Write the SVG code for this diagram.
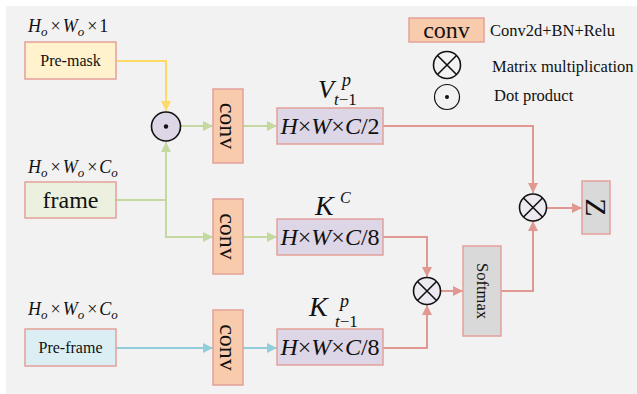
<svg xmlns="http://www.w3.org/2000/svg" width="637" height="394" viewBox="0 0 637 394">
  <style>
    text { font-family: "Liberation Serif", "Times New Roman", serif; fill: #111; }
    .box { stroke: #e3a09b; stroke-width: 1.5; }
    .conv { fill: #f8cbad; }
    .feat { fill: #dcd6e6; }
    .gray { fill: #d9d9d9; }
    .op { stroke: #111; stroke-width: 1.6; }
    .math { font-style: italic; }
    .red { stroke: #e09890; stroke-width: 2; fill: none; }
    .green { stroke: #c3d99f; stroke-width: 2; fill: none; }
    .yellow { stroke: #ffd966; stroke-width: 2; fill: none; }
    .blue { stroke: #92cddc; stroke-width: 2; fill: none; }
  </style>
  <defs>
    <marker id="ar-red" viewBox="0 0 10 10" refX="10" refY="5" markerWidth="5" markerHeight="5" markerUnits="strokeWidth" orient="auto">
      <path d="M0,0 L10,5 L0,10 Z" fill="#e09890"/>
    </marker>
    <marker id="ar-green" viewBox="0 0 10 10" refX="10" refY="5" markerWidth="5" markerHeight="5" markerUnits="strokeWidth" orient="auto">
      <path d="M0,0 L10,5 L0,10 Z" fill="#c3d99f"/>
    </marker>
    <marker id="ar-yellow" viewBox="0 0 10 10" refX="10" refY="5" markerWidth="5" markerHeight="5" markerUnits="strokeWidth" orient="auto">
      <path d="M0,0 L10,5 L0,10 Z" fill="#ffd966"/>
    </marker>
    <marker id="ar-blue" viewBox="0 0 10 10" refX="10" refY="5" markerWidth="5" markerHeight="5" markerUnits="strokeWidth" orient="auto">
      <path d="M0,0 L10,5 L0,10 Z" fill="#92cddc"/>
    </marker>
  </defs>

  <rect width="637" height="394" fill="#ffffff"/>
  <rect x="6" y="6" width="631" height="388" fill="#f2f2f2"/>

  <!-- connectors -->
  <g id="connectors">
    <path class="yellow" d="M116,61 H166 V111" marker-end="url(#ar-yellow)"/>
    <path class="green" d="M116,200 H166 V142" marker-end="url(#ar-green)"/>
    <path class="green" d="M166,200 V237 H213" marker-end="url(#ar-green)"/>
    <path class="green" d="M181,126 H213" marker-end="url(#ar-green)"/>
    <path class="green" d="M243,126 H277" marker-end="url(#ar-green)"/>
    <path class="green" d="M243,237 H277" marker-end="url(#ar-green)"/>
    <path class="blue" d="M116,348 H213" marker-end="url(#ar-blue)"/>
    <path class="blue" d="M243,348 H277" marker-end="url(#ar-blue)"/>
    <path class="red" d="M383,126 H533 V193" marker-end="url(#ar-red)"/>
    <path class="red" d="M383,237 H427 V277" marker-end="url(#ar-red)"/>
    <path class="red" d="M383,348 H427 V305" marker-end="url(#ar-red)"/>
    <path class="red" d="M441,291 H463" marker-end="url(#ar-red)"/>
    <path class="red" d="M501,291 H533 V221" marker-end="url(#ar-red)"/>
    <path class="red" d="M546,208 H582" marker-end="url(#ar-red)"/>
  </g>

  <!-- inputs -->
  <g id="pre-mask">
    <text x="28" y="32" font-size="18"><tspan class="math">H</tspan><tspan class="math" font-size="13" dy="4">o</tspan><tspan dx="3" dy="-4">×</tspan><tspan class="math" dx="2">W</tspan><tspan class="math" font-size="13" dy="4">o</tspan><tspan dx="3" dy="-4">×</tspan><tspan dx="2">1</tspan></text>
    <rect class="box" x="25" y="42" width="91" height="37" fill="#fff2cc"/>
    <text x="70.5" y="66" font-size="16" text-anchor="middle">Pre-mask</text>
  </g>
  <g id="frame">
    <text x="28" y="173" font-size="18"><tspan class="math">H</tspan><tspan class="math" font-size="13" dy="4">o</tspan><tspan dx="3" dy="-4">×</tspan><tspan class="math" dx="2">W</tspan><tspan class="math" font-size="13" dy="4">o</tspan><tspan dx="3" dy="-4">×</tspan><tspan class="math" dx="2">C</tspan><tspan class="math" font-size="13" dy="4">o</tspan></text>
    <rect class="box" x="25" y="182" width="91" height="36" fill="#ebf1de"/>
    <text x="70.5" y="208" font-size="24" text-anchor="middle">frame</text>
  </g>
  <g id="pre-frame">
    <text x="28" y="315" font-size="18"><tspan class="math">H</tspan><tspan class="math" font-size="13" dy="4">o</tspan><tspan dx="3" dy="-4">×</tspan><tspan class="math" dx="2">W</tspan><tspan class="math" font-size="13" dy="4">o</tspan><tspan dx="3" dy="-4">×</tspan><tspan class="math" dx="2">C</tspan><tspan class="math" font-size="13" dy="4">o</tspan></text>
    <rect class="box" x="25" y="329" width="91" height="37" fill="#dbeef4"/>
    <text x="70.5" y="353" font-size="16" text-anchor="middle">Pre-frame</text>
  </g>

  <!-- dot product of mask and frame -->
  <g id="dot-op">
    <circle class="op" cx="166" cy="126.5" r="14.5" fill="#dcd6e6"/>
    <circle cx="166" cy="126.5" r="2.2" fill="#111"/>
  </g>

  <!-- convolution blocks -->
  <g id="conv-v">
    <rect class="box conv" x="213" y="89" width="30" height="74"/>
    <text transform="translate(228,126) rotate(90)" font-size="24" text-anchor="middle" dominant-baseline="central">conv</text>
  </g>
  <g id="conv-k">
    <rect class="box conv" x="213" y="199" width="30" height="75"/>
    <text transform="translate(228,236.5) rotate(90)" font-size="24" text-anchor="middle" dominant-baseline="central">conv</text>
  </g>
  <g id="conv-kp">
    <rect class="box conv" x="213" y="310" width="30" height="75"/>
    <text transform="translate(228,347.5) rotate(90)" font-size="24" text-anchor="middle" dominant-baseline="central">conv</text>
  </g>

  <!-- feature maps -->
  <g id="feat-v">
    <text x="318" y="98" font-size="26" class="math">V</text>
    <text x="342" y="86" font-size="18" class="math">p</text>
    <text x="334" y="105" font-size="17"><tspan class="math">t</tspan>−1</text>
    <rect class="box feat" x="277" y="108" width="106" height="36"/>
    <text x="330" y="134" font-size="24" text-anchor="middle"><tspan class="math">H</tspan>×<tspan class="math">W</tspan>×<tspan class="math">C</tspan>/2</text>
  </g>
  <g id="feat-k">
    <text x="315" y="215" font-size="28" class="math">K</text>
    <text x="340" y="203" font-size="16" class="math">C</text>
    <rect class="box feat" x="277" y="219" width="106" height="36"/>
    <text x="330" y="245" font-size="24" text-anchor="middle"><tspan class="math">H</tspan>×<tspan class="math">W</tspan>×<tspan class="math">C</tspan>/8</text>
  </g>
  <g id="feat-kp">
    <text x="309" y="316" font-size="28" class="math">K</text>
    <text x="340" y="307" font-size="18" class="math">p</text>
    <text x="335" y="327" font-size="17"><tspan class="math">t</tspan>−1</text>
    <rect class="box feat" x="277" y="329" width="106" height="36"/>
    <text x="330" y="355" font-size="24" text-anchor="middle"><tspan class="math">H</tspan>×<tspan class="math">W</tspan>×<tspan class="math">C</tspan>/8</text>
  </g>

  <!-- attention -->
  <g id="matmul-k">
    <circle class="op" cx="427" cy="291" r="13.5" fill="#ece9f1"/>
    <path class="op" d="M417.5,281.5 L436.5,300.5 M436.5,281.5 L417.5,300.5"/>
  </g>
  <g id="softmax">
    <rect class="box gray" x="463" y="246" width="38" height="90"/>
    <text transform="translate(482,291) rotate(90)" font-size="16.5" text-anchor="middle" dominant-baseline="central">Softmax</text>
  </g>
  <g id="matmul-v">
    <circle class="op" cx="533" cy="207.5" r="13.5" fill="#ece9f1"/>
    <path class="op" d="M523.5,198 L542.5,217 M542.5,198 L523.5,217"/>
  </g>
  <g id="output-z">
    <rect class="box gray" x="582" y="181" width="28" height="53"/>
    <text transform="translate(596,207.5) rotate(90)" font-size="30" text-anchor="middle" dominant-baseline="central">Z</text>
  </g>

  <!-- legend -->
  <g id="legend">
    <rect class="box conv" x="409" y="18" width="75" height="24"/>
    <text x="446.5" y="38" font-size="24" text-anchor="middle">conv</text>
    <text x="490" y="36" font-size="16.5">Conv2d+BN+Relu</text>
    <circle class="op" cx="447" cy="65" r="13.5" fill="#f2f2f2"/>
    <path class="op" d="M437.5,55.5 L456.5,74.5 M456.5,55.5 L437.5,74.5"/>
    <text x="492" y="72" font-size="16.5">Matrix multiplication</text>
    <circle cx="447" cy="97" r="12.5" fill="#f2f2f2" stroke="#111" stroke-width="1.2"/>
    <circle cx="447" cy="97" r="2" fill="#111"/>
    <text x="494" y="101" font-size="16.5">Dot product</text>
  </g>
</svg>
